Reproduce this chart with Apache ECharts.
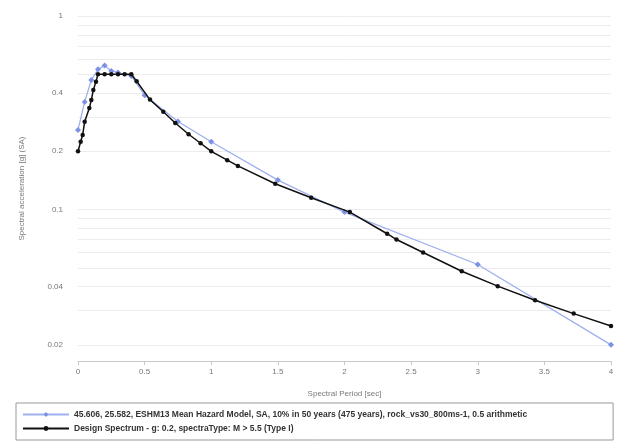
<!DOCTYPE html>
<html><head><meta charset="utf-8">
<script src="https://cdn.jsdelivr.net/npm/echarts@6/dist/echarts.min.js"></script>
<style>html,body{margin:0;padding:0;background:#fff}#c{width:622px;height:441px}</style>
</head><body><div id="c"></div>
<script>
const hazardName = '45.606, 25.582, ESHM13 Mean Hazard Model, SA, 10% in 50 years (475 years), rock_vs30_800ms-1, 0.5 arithmetic';
const designName = 'Design Spectrum - g: 0.2, spectraType: M > 5.5 (Type I)';
const hazardPeriods = [0, 0.05, 0.1, 0.15, 0.2, 0.25, 0.3, 0.4, 0.5, 0.75, 1, 1.5, 2, 3, 4];
const hazardSA = [0.258, 0.36, 0.467, 0.53, 0.555, 0.52, 0.51, 0.49, 0.39, 0.285, 0.224, 0.142, 0.097, 0.052, 0.02];
const designPeriods = [0, 0.02, 0.035, 0.05, 0.085, 0.1, 0.115, 0.135, 0.15, 0.2, 0.25, 0.3, 0.35, 0.4, 0.44, 0.54, 0.64, 0.73, 0.83, 0.92, 1.0, 1.12, 1.2, 1.48, 1.75, 2.04, 2.32, 2.39, 2.59, 2.88, 3.15, 3.43, 3.72, 4.0];
const designSA = [0.2, 0.224, 0.243, 0.284, 0.335, 0.368, 0.415, 0.458, 0.5, 0.5, 0.5, 0.5, 0.5, 0.5, 0.46, 0.37, 0.32, 0.28, 0.245, 0.22, 0.2, 0.18, 0.168, 0.136, 0.115, 0.097, 0.075, 0.07, 0.06, 0.048, 0.0402, 0.034, 0.029, 0.025];
const yLabelValues = [0.02, 0.04, 0.1, 0.2, 0.4, 1];
const yGridValues = [0.02, 0.03, 0.04, 0.05, 0.06, 0.07, 0.08, 0.09, 0.1, 0.2, 0.3, 0.4, 0.5, 0.6, 0.7, 0.8, 0.9, 1];
const xTicks = [0, 0.5, 1, 1.5, 2, 2.5, 3, 3.5, 4];

const zip = (a, b) => a.map((v, i) => [v, b[i]]);
const chart = echarts.init(document.getElementById('c'), null, {renderer: 'canvas'});
chart.setOption({
  animation: false,
  backgroundColor: '#fff',
  textStyle: {fontFamily: 'Liberation Sans, Arial, sans-serif'},
  grid: {left: 78, right: 11, top: 16, bottom: 80, containLabel: false},
  xAxis: {
    type: 'value', min: 0, max: 4, interval: 0.5,
    name: 'Spectral Period [sec]', nameLocation: 'middle', nameGap: 29,
    nameTextStyle: {color: '#777', fontSize: 8},
    axisLine: {show: true, lineStyle: {color: '#c8c8c8'}},
    axisTick: {show: true, length: 4, lineStyle: {color: '#c8c8c8'}},
    axisLabel: {color: '#777', fontSize: 8, margin: 7, customValues: xTicks},
    splitLine: {show: false}
  },
  yAxis: {
    type: 'log', logBase: 10, min: 0.0165, max: 1,
    name: 'Spectral acceleration [g] (SA)', nameLocation: 'middle', nameGap: 52,
    nameTextStyle: {color: '#777', fontSize: 8},
    axisLine: {show: false},
    axisTick: {show: false, customValues: yGridValues},
    axisLabel: {color: '#777', fontSize: 8, margin: 15, customValues: yLabelValues,
      formatter: v => String(+v.toPrecision(3))},
    splitLine: {show: true, lineStyle: {color: '#ececec', width: 1}}
  },
  legend: {
    orient: 'vertical', left: 16, top: 403,
    borderColor: '#999', borderWidth: 1, padding: [7, 86, 7, 6],
    itemGap: 5, itemWidth: 46, itemHeight: 6,
    textStyle: {fontSize: 8.5, fontWeight: 'bold', color: '#333'},
    data: [hazardName, designName]
  },
  series: [
    {name: hazardName, type: 'line', data: zip(hazardPeriods, hazardSA),
     symbol: 'diamond', symbolSize: 6, showSymbol: true,
     lineStyle: {color: '#9fb0ee', width: 1.3}, itemStyle: {color: '#7d90e4'}, z: 2},
    {name: designName, type: 'line', data: zip(designPeriods, designSA),
     symbol: 'circle', symbolSize: 4.5, showSymbol: true,
     lineStyle: {color: '#111', width: 1.5}, itemStyle: {color: '#111'}, z: 3}
  ]
});
</script></body></html>
